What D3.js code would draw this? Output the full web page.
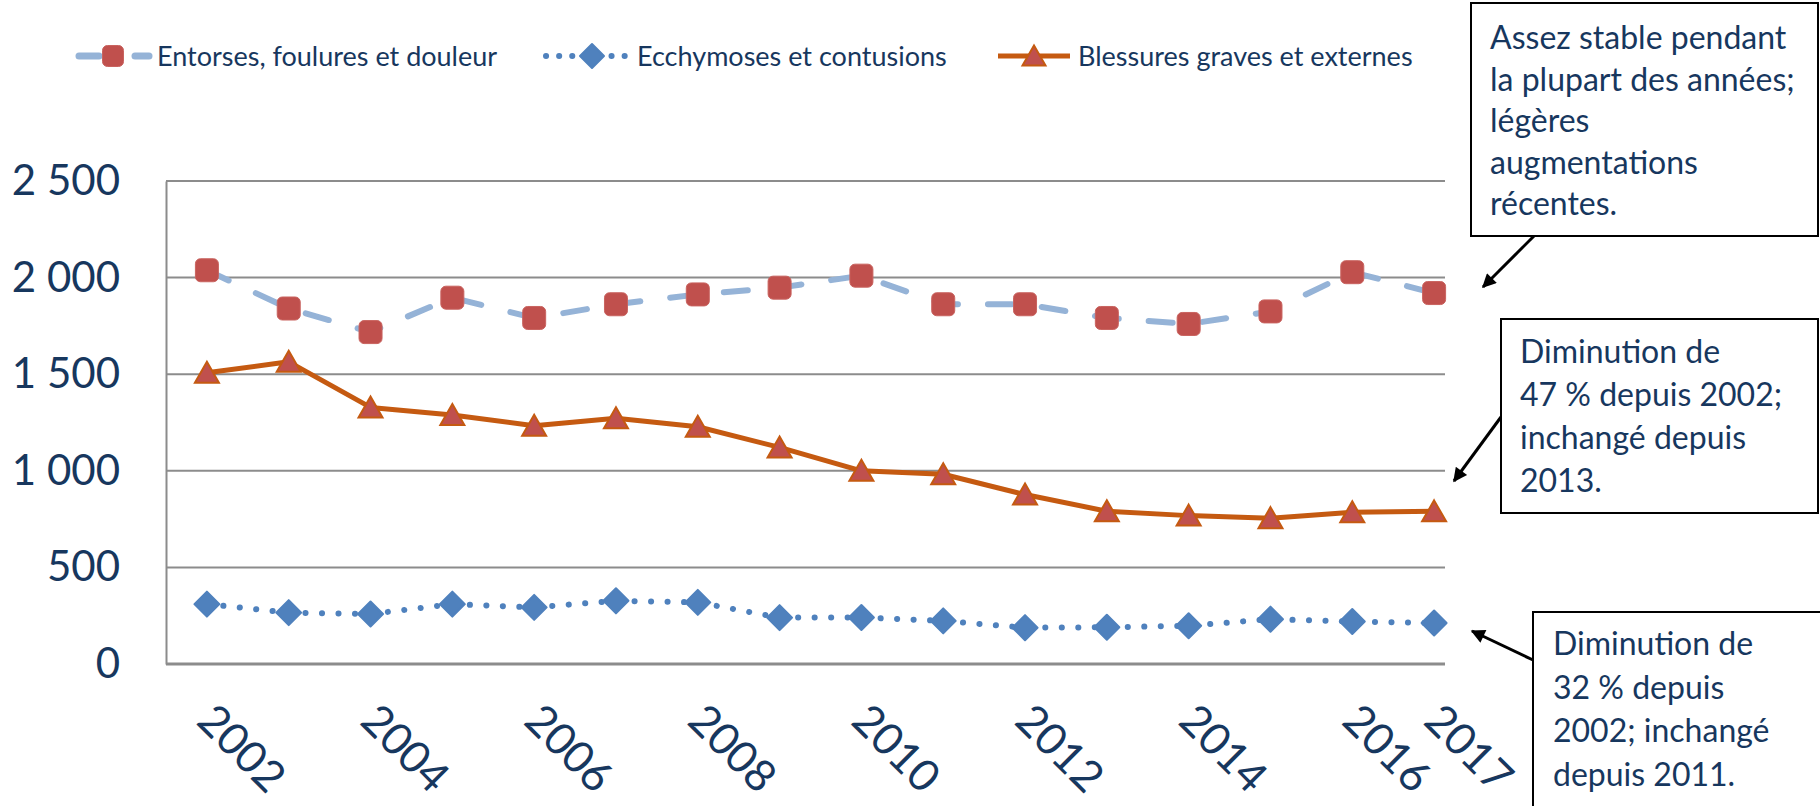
<!DOCTYPE html>
<html>
<head>
<meta charset="utf-8">
<script src="https://cdn.jsdelivr.net/npm/d3@7"></script>
<style>
  body { margin: 0; background: #fff; }
  svg { display: block; font-family: Lato, "Open Sans", sans-serif; }
</style>
</head>
<body>
<div id="chart"></div>
<script>
// values
var years = [2002, 2003, 2004, 2005, 2006, 2007, 2008, 2009, 2010, 2011, 2012, 2013, 2014, 2015, 2016, 2017];
var entorses = [2038, 1840, 1718, 1896, 1791, 1862, 1913, 1948, 2010, 1862, 1862, 1791, 1760, 1825, 2028, 1920];
var ecchymoses = [310, 266, 259, 310, 293, 327, 319, 240, 241, 223, 188, 190, 198, 232, 220, 212];
var blessures = [1508, 1564, 1328, 1289, 1233, 1272, 1228, 1121, 1000, 982, 877, 791, 768, 755, 785, 790];
var seriesNames = ["Entorses, foulures et douleur", "Ecchymoses et contusions", "Blessures graves et externes"];
var yTicks = [0, 500, 1000, 1500, 2000, 2500];
var xTickLabels = [2002, 2004, 2006, 2008, 2010, 2012, 2014, 2016, 2017];
var noteStable = ["Assez stable pendant", "la plupart des années;", "légères", "augmentations", "récentes."];
var noteBlessures = ["Diminution de", "47 % depuis 2002;", "inchangé depuis", "2013."];
var noteEcchymoses = ["Diminution de", "32 % depuis", "2002; inchangé", "depuis 2011."];

var W = 1820, H = 806;
var m = [181, 345, 142, 166]; // top right bottom left
var plotRight = 1445;
var textColor = "#17375E",
  gridColor = "#8C8C8C",
  markerRed = "#C0504D";

var series = [
  {name: seriesNames[0], values: entorses, color: "#95B3D7", width: 6, dash: "24,30", marker: "square"},
  {name: seriesNames[1], values: ecchymoses, color: "#4F81BD", width: 6, dash: "0.1,16.4", marker: "diamond"},
  {name: seriesNames[2], values: blessures, color: "#C55A11", width: 5, dash: null, marker: "triangle"}
];

var svg = d3.select("#chart").append("svg")
  .attr("width", W)
  .attr("height", H);

var x = d3.scaleBand()
  .domain(years)
  .range([m[3], W - m[1]]);
var y = d3.scaleLinear()
  .domain([0, 2500])
  .range([H - m[2], m[0]]);

function cx(d, i) { return x(years[i]) + x.bandwidth() / 2; }

var fr = d3.formatLocale({decimal: ",", thousands: " ", grouping: [3], currency: ["", ""]});
var fmt = fr.format(",d");

// gridlines
svg.append("g").selectAll("line")
  .data(yTicks.slice(1))
  .enter().append("line")
  .attr("x1", m[3])
  .attr("x2", plotRight)
  .attr("y1", function(d) { return y(d); })
  .attr("y2", function(d) { return y(d); })
  .attr("stroke", gridColor)
  .attr("stroke-width", 2);

// y axis
var yAxis = svg.append("g")
  .attr("transform", "translate(" + m[3] + ",0)")
  .call(d3.axisLeft(y).tickValues(yTicks).tickFormat(fmt).tickSize(0).tickPadding(46));
yAxis.select(".domain").attr("stroke", gridColor).attr("stroke-width", 2);
yAxis.selectAll("text")
  .attr("fill", textColor)
  .style("font-size", "42px")
  .style("font-family", "Lato, sans-serif");

// x axis
var xAxis = svg.append("g")
  .attr("transform", "translate(0," + y(0) + ")")
  .call(d3.axisBottom(x).tickValues(xTickLabels).tickSize(0));
xAxis.select(".domain").remove();
xAxis.append("line")
  .attr("x1", m[3])
  .attr("x2", plotRight)
  .attr("stroke", gridColor)
  .attr("stroke-width", 3);
xAxis.selectAll("text")
  .attr("fill", textColor)
  .attr("y", 0)
  .attr("dy", 0)
  .attr("text-anchor", "start")
  .attr("transform", "translate(-12,59) rotate(45)")
  .style("font-size", "44px")
  .style("font-family", "Lato, sans-serif");

// markers
function drawMarker(sel, type, size) {
  var h = size / 2;
  if (type == "square") {
    sel.append("rect")
      .attr("x", -h).attr("y", -h)
      .attr("width", size).attr("height", size)
      .attr("rx", 5)
      .attr("fill", markerRed)
      .attr("stroke", "#C9635F")
      .attr("stroke-width", 1);
  } else if (type == "diamond") {
    sel.append("path")
      .attr("d", "M0," + (-h) + "L" + h + ",0L0," + h + "L" + (-h) + ",0Z")
      .attr("fill", "#4F81BD")
      .attr("stroke", "#4F81BD")
      .attr("stroke-linejoin", "round")
      .attr("stroke-width", 2);
  } else {
    sel.append("path")
      .attr("d", "M0," + (-h) + "L" + (h + 1) + "," + (h - 1) + "L" + (-h - 1) + "," + (h - 1) + "Z")
      .attr("fill", markerRed)
      .attr("stroke", "#C55A11")
      .attr("stroke-width", 2);
  }
}

var line = d3.line()
  .x(cx)
  .y(function(d) { return y(d); });

series.forEach(function(s) {
  svg.append("path")
    .datum(s.values)
    .attr("d", line)
    .attr("fill", "none")
    .attr("stroke", s.color)
    .attr("stroke-width", s.width)
    .attr("stroke-linecap", s.dash ? "round" : "butt")
    .attr("stroke-linejoin", "round")
    .attr("stroke-dasharray", s.dash);

  svg.append("g").selectAll("g")
    .data(s.values)
    .enter().append("g")
    .attr("transform", function(d, i) { return "translate(" + cx(d, i) + "," + y(d) + ")"; })
    .each(function() { drawMarker(d3.select(this), s.marker, s.marker == "diamond" ? 25 : (s.marker == "triangle" ? 22 : 23)); });
});

// legend
var legendX = [[79, 149, 113, 157], [546, 636, 592, 637], [998, 1070, 1034, 1078]];
var legendY = 56;
var legend = svg.append("g").selectAll("g")
  .data(series)
  .enter().append("g");
legend.each(function(s, i) {
  var g = d3.select(this), lx = legendX[i];
  if (s.marker == "square") {
    g.append("line").attr("x1", lx[0]).attr("x2", lx[2] - 14)
      .attr("y1", legendY).attr("y2", legendY)
      .attr("stroke", s.color).attr("stroke-width", 7).attr("stroke-linecap", "round");
    g.append("line").attr("x1", lx[2] + 22).attr("x2", lx[1])
      .attr("y1", legendY).attr("y2", legendY)
      .attr("stroke", s.color).attr("stroke-width", 7).attr("stroke-linecap", "round");
  } else {
    g.append("line").attr("x1", lx[0]).attr("x2", lx[1])
      .attr("y1", legendY).attr("y2", legendY)
      .attr("stroke", s.color).attr("stroke-width", s.width)
      .attr("stroke-linecap", s.dash ? "round" : "butt")
      .attr("stroke-dasharray", s.dash ? "0.1,13" : null);
  }
  var mk = g.append("g").attr("transform", "translate(" + lx[2] + "," + legendY + ")");
  drawMarker(mk, s.marker, s.marker == "diamond" ? 24 : 21);
  g.append("text")
    .attr("x", lx[3])
    .attr("y", legendY)
    .attr("dy", "0.36em")
    .attr("fill", textColor)
    .style("font-size", "27px")
    .text(s.name);
});

// annotations
var defs = svg.append("defs");
defs.append("marker")
  .attr("id", "arrow")
  .attr("viewBox", "0 0 10 10")
  .attr("refX", 9).attr("refY", 5)
  .attr("markerUnits", "userSpaceOnUse")
  .attr("markerWidth", 18).attr("markerHeight", 14)
  .attr("orient", "auto")
  .append("path")
  .attr("d", "M0,0L10,5L0,10Z")
  .attr("fill", "#000");

var notes = [
  {lines: noteStable, box: [1471, 3, 347, 233], tx: 1490, ty: 49, lh: 41.5, arrow: [1534, 236, 1483, 287]},
  {lines: noteBlessures, box: [1501, 319, 317, 194], tx: 1520, ty: 363, lh: 43, arrow: [1501, 417, 1454, 481]},
  {lines: noteEcchymoses, box: [1533, 612, 300, 210], tx: 1553, ty: 655, lh: 43.5, arrow: [1533, 660, 1472, 631]}
];

notes.forEach(function(n) {
  svg.append("line")
    .attr("x1", n.arrow[0]).attr("y1", n.arrow[1])
    .attr("x2", n.arrow[2]).attr("y2", n.arrow[3])
    .attr("stroke", "#000")
    .attr("stroke-width", 3)
    .attr("marker-end", "url(#arrow)");
  svg.append("rect")
    .attr("x", n.box[0]).attr("y", n.box[1])
    .attr("width", n.box[2]).attr("height", n.box[3])
    .attr("fill", "#fff")
    .attr("stroke", "#000")
    .attr("stroke-width", 2);
  svg.append("g").selectAll("text")
    .data(n.lines)
    .enter().append("text")
    .attr("x", n.tx)
    .attr("y", function(d, i) { return n.ty + i * n.lh; })
    .attr("fill", textColor)
    .style("font-size", "32px")
    .text(function(d) { return d; });
});
</script>
</body>
</html>
